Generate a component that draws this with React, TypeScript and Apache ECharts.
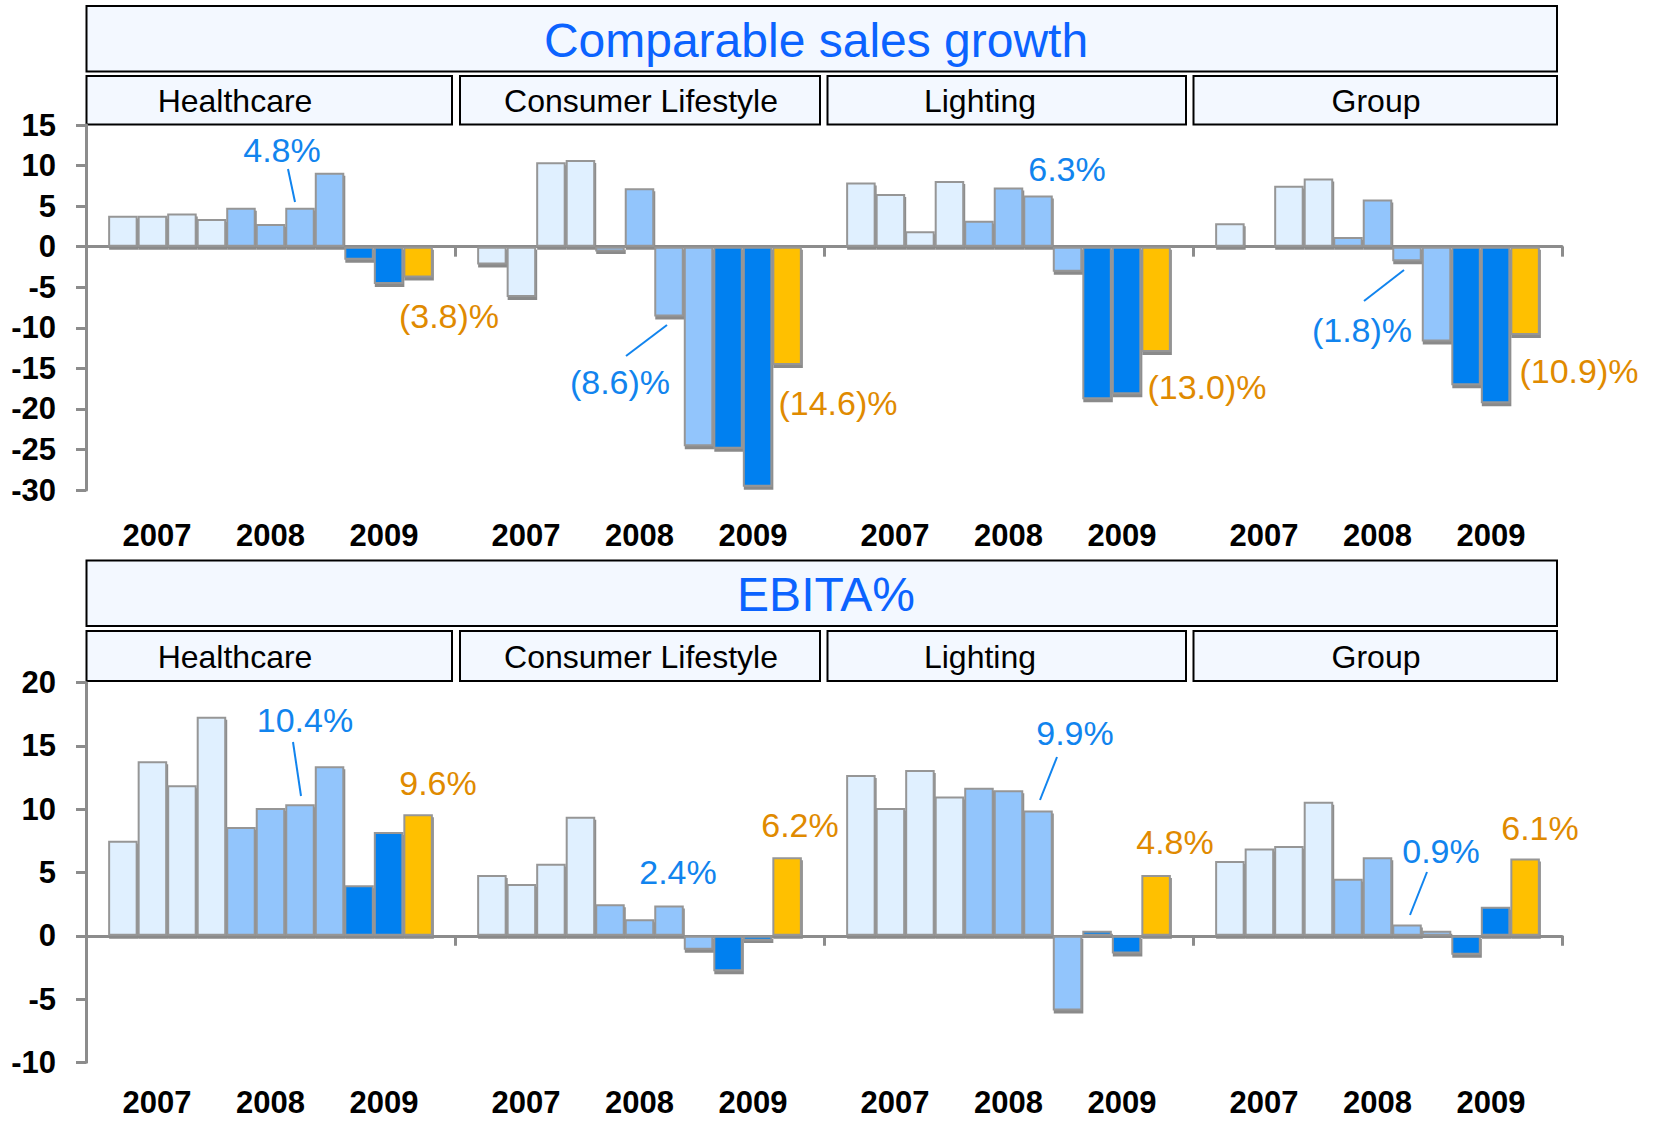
import React, { useEffect, useRef } from "react";
import * as echarts from "echarts";

// ---------- data ----------
const GROUPS = ["Healthcare", "Consumer Lifestyle", "Lighting", "Group"];
const PERIODS = [
  "2007 Q1", "2007 Q2", "2007 Q3", "2007 Q4",
  "2008 Q1", "2008 Q2", "2008 Q3", "2008 Q4",
  "2009 Q1", "2009 Q2", "2009 Q3",
];
const PERIOD_YEAR = ["2007", "2007", "2007", "2007", "2008", "2008", "2008", "2008", "2009", "2009", "2009 Q3"];
const YEAR_LABELS = ["2007", "2008", "2009"];

const SALES_HEALTHCARE = [3.8, 3.8, 4.1, 3.4, 4.8, 2.8, 4.8, 9.1, -1.6, -4.6, -3.8];
const SALES_CONSUMER = [-2.2, -6.2, 10.4, 10.7, -0.6, 7.2, -8.6, -24.6, -24.9, -29.6, -14.6];
const SALES_LIGHTING = [7.9, 6.5, 1.9, 8.1, 3.2, 7.3, 6.3, -3.1, -18.8, -18.2, -13.0];
const SALES_GROUP = [2.9, 0.2, 7.5, 8.4, 1.2, 5.8, -1.8, -11.7, -17.1, -19.3, -10.9];

const EBITA_HEALTHCARE = [7.5, 13.8, 11.9, 17.3, 8.6, 10.1, 10.4, 13.4, 4.0, 8.2, 9.6];
const EBITA_CONSUMER = [4.8, 4.1, 5.7, 9.4, 2.5, 1.3, 2.4, -1.1, -2.8, -0.4, 6.2];
const EBITA_LIGHTING = [12.7, 10.1, 13.1, 11.0, 11.7, 11.5, 9.9, -5.9, 0.4, -1.4, 4.8];
const EBITA_GROUP = [5.9, 6.9, 7.1, 10.6, 4.5, 6.2, 0.9, 0.4, -1.5, 2.3, 6.1];

const SALES_TITLE = "Comparable sales growth";
const EBITA_TITLE = "EBITA%";

const SALES_NOTES = ["4.8%", "(3.8)%", "(8.6)%", "(14.6)%", "6.3%", "(13.0)%", "(1.8)%", "(10.9)%"];
const EBITA_NOTES = ["10.4%", "9.6%", "2.4%", "6.2%", "9.9%", "4.8%", "0.9%", "6.1%"];
const NOTE_KIND = ["q", "ytd", "q", "ytd", "q", "ytd", "q", "ytd"];

// ---------- layout / style ----------
const FONT = '"Liberation Sans", Arial, sans-serif';
const COLOR_BY_YEAR: Record<string, string> = {
  "2007": "#e0f0ff",
  "2008": "#92c5fc",
  "2009": "#0080f0",
  "2009 Q3": "#ffc000",
};
const NOTE_COLOR: Record<string, string> = { q: "#1184ee", ytd: "#e08a00" };
const AXIS_GRAY = "#8c8c8c";

const GRID_LEFT = 86;
const GRID_WIDTH = 1476;
const PANELS = [
  { top: 125, height: 365, min: -30, max: 15, titleY: 6, subY: 76, subH: 48.5, yearMargin: 32 },
  { top: 682.7, height: 379.6, min: -10, max: 20, titleY: 560.5, subY: 631, subH: 50, yearMargin: 27 },
];
const SUB_BOXES = [
  [86.5, 452],
  [460, 820],
  [827.5, 1186],
  [1193.5, 1557],
];
const SUB_TEXT_X = [235, 641, 980, 1376];

const SALES_NOTE_POS = [
  [282, 150, [288, 169, 295, 202]],
  [449, 316],
  [620, 382, [626, 356, 667, 325]],
  [838, 403],
  [1067, 169],
  [1207, 387],
  [1362, 330, [1364, 301, 1404, 270]],
  [1579, 371],
];
const EBITA_NOTE_POS = [
  [305, 720, [293, 742, 301, 796]],
  [438, 783],
  [678, 872],
  [800, 825],
  [1075, 733, [1057, 757, 1040, 800]],
  [1175, 842],
  [1441, 851, [1427, 872, 1410, 915]],
  [1540, 828],
];

function buildYearSlots(): string[] {
  const slots: string[] = [];
  GROUPS.forEach(() => {
    for (let k = 0; k < 13; k++) {
      if (k === 2) slots.push(YEAR_LABELS[0]);
      else if (k === 6) slots.push(YEAR_LABELS[1]);
      else if (k === 10) slots.push(YEAR_LABELS[2]);
      else slots.push("");
    }
  });
  return slots;
}

function buildOption() {
  const panelsData = [
    [SALES_HEALTHCARE, SALES_CONSUMER, SALES_LIGHTING, SALES_GROUP],
    [EBITA_HEALTHCARE, EBITA_CONSUMER, EBITA_LIGHTING, EBITA_GROUP],
  ];
  const titles = [SALES_TITLE, EBITA_TITLE];
  const notes = [SALES_NOTES, EBITA_NOTES];
  const notePos = [SALES_NOTE_POS, EBITA_NOTE_POS];
  const yearSlots = buildYearSlots();

  const grid: any[] = [];
  const xAxis: any[] = [];
  const yAxis: any[] = [];
  const series: any[] = [];
  const graphic: any[] = [];

  PANELS.forEach((p, pi) => {
    grid.push({ left: GRID_LEFT, top: p.top, width: GRID_WIDTH, height: p.height, containLabel: false });
    xAxis.push({
      type: "category",
      gridIndex: pi,
      data: GROUPS,
      position: "bottom",
      z: 1,
      axisLine: { show: true, onZero: true, lineStyle: { color: AXIS_GRAY, width: 3 } },
      axisTick: { show: true, length: 10, lineStyle: { color: AXIS_GRAY, width: 3 } },
      axisLabel: { show: false },
      splitLine: { show: false },
    });
    xAxis.push({
      type: "category",
      gridIndex: pi,
      data: yearSlots,
      position: "bottom",
      axisLine: { show: false, onZero: false },
      axisTick: { show: false },
      splitLine: { show: false },
      axisLabel: {
        interval: 0,
        margin: p.yearMargin,
        fontSize: 31,
        lineHeight: 26,
        fontWeight: "bold",
        fontFamily: FONT,
        color: "#000",
      },
    });
    yAxis.push({
      type: "value",
      gridIndex: pi,
      min: p.min,
      max: p.max,
      interval: 5,
      axisLine: { show: true, lineStyle: { color: AXIS_GRAY, width: 3 } },
      axisTick: { show: true, length: 10, lineStyle: { color: AXIS_GRAY, width: 3 } },
      splitLine: { show: false },
      axisLabel: {
        fontSize: 31,
        fontWeight: "bold",
        fontFamily: FONT,
        color: "#000",
        margin: 30,
      },
    });

    const groupsData = panelsData[pi];
    PERIODS.forEach((period, qi) => {
      series.push({
        type: "bar",
        name: period,
        xAxisIndex: pi * 2,
        yAxisIndex: pi,
        barGap: "0%",
        barCategoryGap: "12%",
        data: groupsData.map((g) => g[qi]),
        itemStyle: {
          color: COLOR_BY_YEAR[PERIOD_YEAR[qi]],
          borderColor: "#969696",
          borderWidth: 2,
          shadowColor: "#8a8a8a",
          shadowOffsetX: 1,
          shadowOffsetY: 3,
          shadowBlur: 0,
        },
        emphasis: { disabled: true },
      });
    });

    // header boxes
    graphic.push({
      type: "rect",
      shape: { x: 86.5, y: p.titleY, width: 1470.5, height: 65.5 },
      style: { fill: "#f3f8ff", stroke: "#000", lineWidth: 2 },
    });
    graphic.push({
      type: "text",
      x: pi === 0 ? 816 : 826,
      y: p.titleY + 34,
      style: {
        text: titles[pi],
        fill: "#0b63ff",
        fontSize: 48,
        fontFamily: FONT,
        align: "center",
        verticalAlign: "middle",
      },
    });
    SUB_BOXES.forEach((b, gi) => {
      graphic.push({
        type: "rect",
        shape: { x: b[0], y: p.subY, width: b[1] - b[0], height: p.subH },
        style: { fill: "#f3f8ff", stroke: "#000", lineWidth: 2 },
      });
      graphic.push({
        type: "text",
        x: SUB_TEXT_X[gi],
        y: p.subY + p.subH / 2 + 1,
        style: {
          text: GROUPS[gi],
          fill: "#000",
          fontSize: 32,
          fontFamily: FONT,
          align: "center",
          verticalAlign: "middle",
        },
      });
    });

    // annotations
    notes[pi].forEach((t, ni) => {
      const pos: any = notePos[pi][ni];
      const color = NOTE_COLOR[NOTE_KIND[ni]];
      graphic.push({
        type: "text",
        x: pos[0],
        y: pos[1],
        z: 10,
        style: {
          text: t,
          fill: color,
          fontSize: 34,
          fontFamily: FONT,
          align: "center",
          verticalAlign: "middle",
        },
      });
      if (pos[2]) {
        const l = pos[2];
        graphic.push({
          type: "line",
          z: 10,
          shape: { x1: l[0], y1: l[1], x2: l[2], y2: l[3] },
          style: { stroke: color, lineWidth: 2 },
        });
      }
    });
  });

  return {
    animation: false,
    backgroundColor: "#ffffff",
    grid,
    xAxis,
    yAxis,
    series,
    graphic,
  };
}

export default function App() {
  const ref = useRef<HTMLDivElement>(null);
  useEffect(() => {
    if (!ref.current) return;
    const chart = echarts.init(ref.current, null, { renderer: "svg" });
    chart.setOption(buildOption());
    return () => chart.dispose();
  }, []);
  return (
    <div
      ref={ref}
      style={{ position: "fixed", left: 0, top: 0, width: 1655, height: 1122, background: "#fff" }}
    />
  );
}
